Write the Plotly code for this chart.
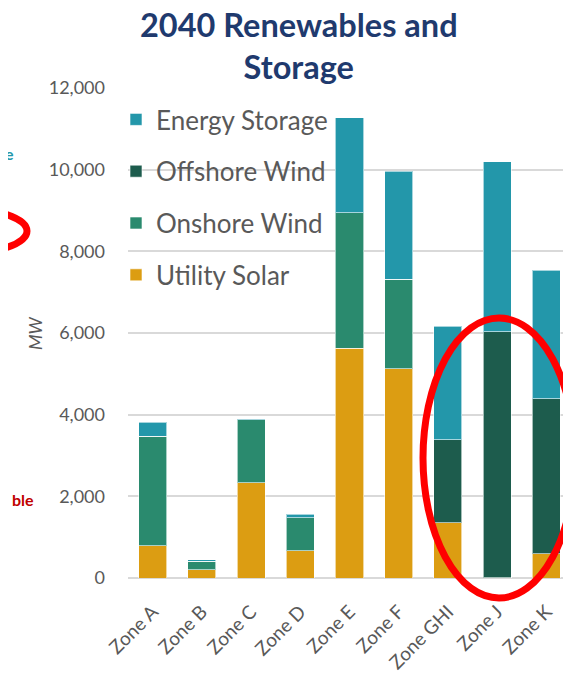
import plotly.graph_objects as go

zones = ["Zone A", "Zone B", "Zone C", "Zone D", "Zone E", "Zone F", "Zone GHI", "Zone J", "Zone K"]
utility_solar = [790, 200, 2330, 670, 5630, 5130, 1350, 10, 590]
onshore_wind = [2680, 210, 1550, 800, 3310, 2190, 0, 0, 0]
offshore_wind = [0, 0, 0, 0, 0, 0, 2040, 6015, 3800]
energy_storage = [340, 40, 25, 90, 2330, 2640, 2775, 4165, 3145]
y_ticks = [0, 2000, 4000, 6000, 8000, 10000, 12000]

colors = {
    "Utility Solar": "#DC9D12",
    "Onshore Wind": "#2A8A6E",
    "Offshore Wind": "#1D5C4D",
    "Energy Storage": "#2397AA",
}
legend_rank = {"Energy Storage": 1, "Offshore Wind": 2, "Onshore Wind": 3, "Utility Solar": 4}

# the page body adds an 8px offset; the figure is sized so that the whole view is filled
OFF = 8
W, H = 571 - OFF, 680 - OFF
PLOT_L, PLOT_R, PLOT_T, PLOT_B = 128, 571, 88, 578  # target positions in the window
L, R, T, B = PLOT_L - OFF, 571 - PLOT_R, PLOT_T - OFF, 680 - PLOT_B
pw, ph = W - L - R, H - T - B

def px(x):
    return (x - PLOT_L) / pw

def py(y):
    return (PLOT_B - y) / ph

fig = go.Figure()
for name, vals in [("Utility Solar", utility_solar), ("Onshore Wind", onshore_wind),
                   ("Offshore Wind", offshore_wind), ("Energy Storage", energy_storage)]:
    fig.add_trace(go.Bar(
        x=zones, y=vals, name=name, legendgroup=name, legendrank=legend_rank[name],
        marker=dict(color=colors[name], line=dict(color="rgba(255,255,255,0.6)", width=1)),
    ))

font_family = "Lato, 'Open Sans', sans-serif"

fig.update_layout(
    width=W, height=H, autosize=False,
    margin=dict(l=L, r=R, t=T, b=B, autoexpand=False),
    barmode="stack", bargap=0.43,
    plot_bgcolor="white", paper_bgcolor="white",
    font=dict(family=font_family, color="#595959"),
    legend=dict(
        xref="container", yref="container",
        x=(116 - OFF) / W, y=1 - (96 - OFF) / H, xanchor="left", yanchor="top",
        traceorder="grouped", tracegroupgap=15,
        font=dict(size=26, color="#595959"),
        bgcolor="rgba(0,0,0,0)", itemwidth=30,
    ),
    xaxis=dict(
        tickangle=-45, tickfont=dict(size=19, color="#595959"),
        showgrid=False, showline=False, ticks="", automargin=False,
        ticklabelstandoff=18,
    ),
    yaxis=dict(
        range=[0, 12000], tickvals=y_ticks, tickformat=",d",
        tickfont=dict(size=18, color="#595959"),
        showgrid=True, gridcolor="#D9D9D9", gridwidth=1.5,
        zeroline=True, zerolinecolor="#D9D9D9", zerolinewidth=1.5,
        showline=False, ticks="", ticklabelstandoff=22, automargin=False,
    ),
    shapes=[
        dict(type="circle", xref="paper", yref="paper",
             x0=px(423), x1=px(575), y0=py(598), y1=py(318),
             line=dict(color="#FF0000", width=7), layer="above"),
        dict(type="circle", xref="paper", yref="paper",
             x0=px(-120), x1=px(27), y0=py(255), y1=py(207),
             line=dict(color="#FF0000", width=7), layer="above"),
    ],
    annotations=[
        dict(text="<b>2040 Renewables and<br>Storage</b>", xref="paper", yref="paper",
             x=px(299), y=py(3), xanchor="center", yanchor="top", showarrow=False,
             font=dict(family=font_family, size=32.5, color="#1F3A6E")),
        dict(text="<i>MW</i>", xref="paper", yref="paper", x=px(35), y=py(333),
             xanchor="center", yanchor="middle", textangle=-90, showarrow=False,
             font=dict(size=18, color="#595959")),
        dict(text="<b>e</b>", xref="paper", yref="paper", x=px(3), y=py(142),
             showarrow=False, font=dict(size=16, color="#2397AA")),
        dict(text="<b>ble</b>", xref="paper", yref="paper", x=px(10), y=py(511),
             showarrow=False, font=dict(size=16, color="#C00000")),
    ],
)

fig.write_html("out.html")
